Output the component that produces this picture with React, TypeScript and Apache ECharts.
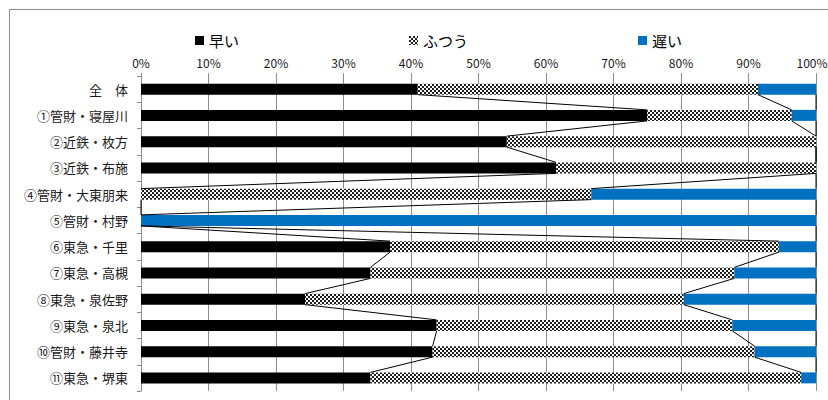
import React, { useEffect, useRef } from "react";
import * as echarts from "echarts";

const categories = [
  "全　体",
  "①管財・寝屋川",
  "②近鉄・枚方",
  "③近鉄・布施",
  "④管財・大東朋来",
  "⑤管財・村野",
  "⑥東急・千里",
  "⑦東急・高槻",
  "⑧東急・泉佐野",
  "⑨東急・泉北",
  "⑩管財・藤井寺",
  "⑪東急・堺東",
];
const seriesNames = ["早い", "ふつう", "遅い"];
const early = [41.0, 75.0, 54.2, 61.5, 0, 0, 36.9, 34.0, 24.3, 43.8, 43.2, 34.0];
const normal = [50.4, 21.4, 45.8, 38.5, 66.7, 0, 57.6, 53.9, 56.1, 43.8, 47.7, 63.8];
const late = [8.6, 3.6, 0, 0, 33.3, 100, 5.5, 12.1, 19.6, 12.4, 9.1, 2.2];
const xTicks = [0, 10, 20, 30, 40, 50, 60, 70, 80, 90, 100];

const BAR_H = 11;
const FONT = "'Noto Sans CJK JP', 'Noto Sans', sans-serif";

function makeChecker(): HTMLCanvasElement {
  const c = document.createElement("canvas");
  c.width = 4;
  c.height = 4;
  const ctx = c.getContext("2d")!;
  ctx.fillStyle = "#ffffff";
  ctx.fillRect(0, 0, 4, 4);
  ctx.fillStyle = "#1e1e1e";
  ctx.fillRect(0, 0, 2, 2);
  ctx.fillRect(2, 2, 2, 2);
  return c;
}

export default function App() {
  const ref = useRef<HTMLDivElement>(null);
  useEffect(() => {
    if (!ref.current) return;
    const chart = echarts.init(ref.current, null, { renderer: "svg" });
    const checker = makeChecker();
    const lineRows: number[][] = [];
    const cumE = early.map((v) => v);
    const cumN = early.map((v, i) => v + normal[i]);
    const cumL = early.map((v, i) => v + normal[i] + late[i]);
    [cumE, cumN, cumL].forEach((cum) => {
      for (let i = 0; i < categories.length - 1; i++) {
        lineRows.push([i, cum[i], cum[i + 1]]);
      }
    });
    const colors: any[] = [
      "#000000",
      { image: checker, repeat: "repeat" },
      "#0070c0",
    ];
    const values = [early, normal, late];
    const maxTick = xTicks[xTicks.length - 1];
    chart.setOption({
      animation: false,
      graphic: [
        {
          type: "rect",
          shape: { x: 9.5, y: 9.5, width: 900, height: 500 },
          style: { fill: "none", stroke: "#8c8c8c", lineWidth: 1 },
          silent: true,
        },
      ],
      legend: {
        data: seriesNames,
        left: 190,
        top: 28,
        itemWidth: 9,
        itemHeight: 9,
        itemGap: 170,
        icon: "rect",
        textStyle: { fontSize: 15, color: "#000", fontFamily: FONT },
      },
      grid: {
        left: 141,
        right: 12,
        top: 76,
        bottom: 9,
        containLabel: false,
        outerBoundsMode: "none",
      },
      xAxis: {
        type: "value",
        position: "top",
        min: 0,
        max: 100,
        interval: 10,
        axisLine: { show: false },
        axisTick: { show: true, length: 3, lineStyle: { color: "#8c8c8c" } },
        axisLabel: {
          margin: 8,
          fontSize: 12,
          color: "#1a1a1a",
          fontFamily: FONT,
          formatter: (v: number) =>
            xTicks.includes(v) ? (v === maxTick ? "{e|" + v + "%}" : v + "%") : "",
          rich: {
            e: {
              fontSize: 12,
              color: "#1a1a1a",
              fontFamily: FONT,
              padding: [0, 8, 0, 0],
            },
          },
        },
        splitLine: { show: true, lineStyle: { color: "#8c8c8c", width: 1 } },
      },
      yAxis: {
        type: "category",
        data: categories,
        inverse: true,
        axisLine: { show: true, lineStyle: { color: "#8c8c8c" } },
        axisTick: { show: true, length: 4, inside: false, lineStyle: { color: "#8c8c8c" } },
        axisLabel: { margin: 13, fontSize: 13, color: "#1a1a1a", fontFamily: FONT },
        splitLine: { show: false },
      },
      series: [
        ...seriesNames.map((name, k) => ({
          name,
          type: "bar",
          stack: "total",
          barWidth: BAR_H,
          data: values[k],
          itemStyle: { color: colors[k] },
          z: 2,
        })),
        {
          type: "custom",
          name: "seriesLines",
          silent: true,
          z: 3,
          encode: { x: [1, 2], y: 0 },
          data: lineRows,
          renderItem: (params: any, api: any) => {
            const i = api.value(0);
            const p0 = api.coord([api.value(1), i]);
            const p1 = api.coord([api.value(2), i + 1]);
            const dir = p1[1] > p0[1] ? 1 : -1;
            const h = BAR_H / 2;
            return {
              type: "line",
              shape: {
                x1: p0[0],
                y1: p0[1] + dir * h,
                x2: p1[0],
                y2: p1[1] - dir * h,
              },
              style: { stroke: "#000", lineWidth: 1 },
            };
          },
        },
      ],
    });
    return () => chart.dispose();
  }, []);
  return (
    <div
      ref={ref}
      style={{ position: "absolute", left: 0, top: 0, width: 828, height: 400 }}
    />
  );
}
